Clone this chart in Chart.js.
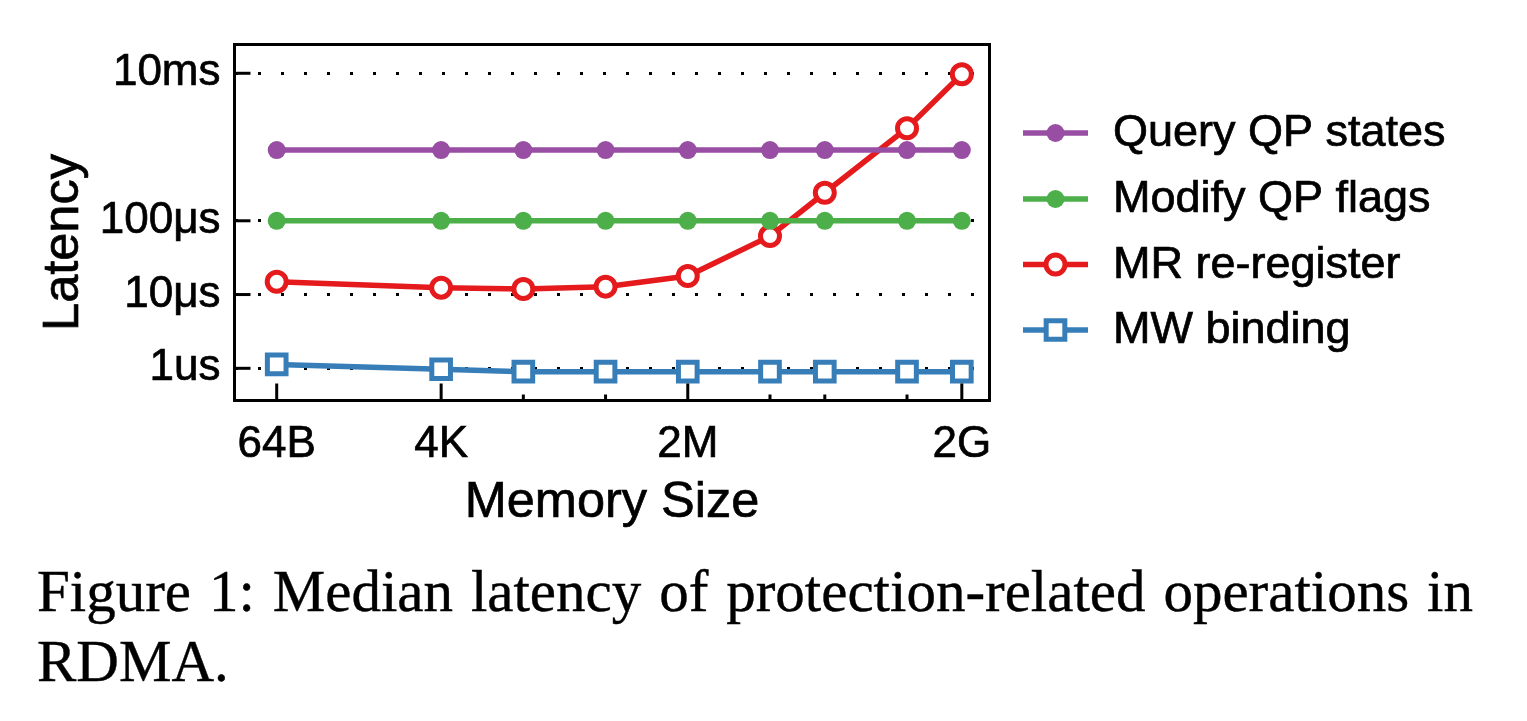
<!DOCTYPE html>
<html>
<head>
<meta charset="utf-8">
<script src="https://cdn.jsdelivr.net/npm/chart.js@4.4.0/dist/chart.umd.min.js"></script>
<style>
  html, body { margin: 0; padding: 0; background: #fff; }
  body { width: 1527px; height: 721px; position: relative; overflow: hidden; }
  #chart { position: absolute; left: 0; top: 0; }
  .cap { position: absolute; left: 37px; font-family: 'Liberation Serif', 'Times New Roman', serif;
         font-size: 59px; line-height: 70px; color: #000; white-space: nowrap;
         -webkit-text-stroke: 0.4px #000; }
  #cap1 { top: 556px; width: 1436px; text-align: justify; text-align-last: justify; white-space: normal; }
  #cap2 { top: 626px; }
</style>
</head>
<body>
<canvas id="chart" width="1527" height="540"></canvas>
<div class="cap" id="cap1">Figure 1: Median latency of protection-related operations in</div>
<div class="cap" id="cap2">RDMA.</div>
<script>
// ---- data ----
const sizeLabels = ['64B', '4K', '32K', '256K', '2M', '16M', '64M', '512M', '2G'];
const sizeLog2   = [6, 12, 15, 18, 21, 24, 26, 29, 31];
const xLabeled   = ['64B', '4K', '2M', '2G'];
const seriesNames = ['Query QP states', 'Modify QP flags', 'MR re-register', 'MW binding'];
// latency in microseconds
const queryQP  = [910, 910, 910, 910, 910, 910, 910, 910, 910];
const modifyQP = [100, 100, 100, 100, 100, 100, 100, 100, 100];
const mrReg    = [14.9, 12.4, 11.9, 12.8, 17.8, 62, 240, 1800, 9700];
const mwBind   = [1.13, 0.97, 0.90, 0.90, 0.90, 0.90, 0.90, 0.90, 0.90];
const yTickValues = [1, 10, 100, 10000];
const yTickLabels = ['1us', '10μs', '100μs', '10ms'];

const colors = ['#984ea3', '#4daf4a', '#e41a1c', '#377eb8'];
const FONT = "'Liberation Sans', Arial, Helvetica, sans-serif";
const TEXT_STROKE = 0.7;

function pts(arr) { return arr.map((v, i) => ({ x: sizeLog2[i], y: v })); }

const markerStyles = [
  { pointStyle: 'circle', pointRadius: 9, pointBorderWidth: 0, fill: true },
  { pointStyle: 'circle', pointRadius: 9, pointBorderWidth: 0, fill: true },
  { pointStyle: 'circle', pointRadius: 9.5, pointBorderWidth: 5, fill: false },
  { pointStyle: 'rect', pointRadius: 13.2, pointBorderWidth: 5, fill: false }
];
const allSeries = [queryQP, modifyQP, mrReg, mwBind];

const datasets = allSeries.map((arr, i) => ({
  label: seriesNames[i],
  data: pts(arr),
  borderColor: colors[i],
  borderWidth: 5.5,
  backgroundColor: colors[i],
  pointStyle: markerStyles[i].pointStyle,
  pointRadius: markerStyles[i].pointRadius,
  pointHoverRadius: markerStyles[i].pointRadius,
  pointBorderWidth: markerStyles[i].pointBorderWidth,
  pointBorderColor: colors[i],
  pointBackgroundColor: markerStyles[i].fill ? colors[i] : '#ffffff',
  tension: 0,
  fill: false
}));

function drawMarker(ctx, i, x, y) {
  const m = markerStyles[i];
  ctx.save();
  ctx.lineWidth = m.pointBorderWidth;
  ctx.strokeStyle = colors[i];
  ctx.fillStyle = m.fill ? colors[i] : '#ffffff';
  ctx.beginPath();
  if (m.pointStyle === 'rect') {
    const s = Math.SQRT1_2 * m.pointRadius;
    ctx.rect(x - s, y - s, 2 * s, 2 * s);
  } else {
    ctx.arc(x, y, m.pointRadius, 0, Math.PI * 2);
  }
  ctx.fill();
  if (m.pointBorderWidth > 0) ctx.stroke();
  ctx.restore();
}

function text(ctx, s, x, y) {
  ctx.fillText(s, x, y);
  ctx.lineWidth = TEXT_STROKE;
  ctx.strokeStyle = '#000';
  ctx.strokeText(s, x, y);
}

const decorPlugin = {
  id: 'decor',
  afterDraw(chart) {
    const ctx = chart.ctx;
    const a = chart.chartArea;
    const xs = chart.scales.x, ys = chart.scales.y;
    ctx.save();
    // frame
    ctx.strokeStyle = '#000';
    ctx.lineWidth = 3;
    ctx.strokeRect(a.left, a.top, a.right - a.left, a.bottom - a.top);
    // x ticks (inward)
    ctx.lineWidth = 3;
    sizeLog2.forEach((v, i) => {
      const px = xs.getPixelForValue(v);
      const major = xLabeled.includes(sizeLabels[i]);
      const len = major ? 17 : 6;
      ctx.beginPath();
      ctx.moveTo(px, a.bottom);
      ctx.lineTo(px, a.bottom - len);
      ctx.stroke();
    });
    // y ticks (inward)
    yTickValues.forEach(v => {
      const py = ys.getPixelForValue(v);
      ctx.beginPath();
      ctx.moveTo(a.left, py);
      ctx.lineTo(a.left + 16, py);
      ctx.stroke();
    });
    // axis titles
    ctx.fillStyle = '#000';
    ctx.font = '50.5px ' + FONT;
    ctx.textAlign = 'center';
    ctx.textBaseline = 'alphabetic';
    text(ctx, 'Memory Size', (a.left + a.right) / 2, 517);
    ctx.save();
    ctx.translate(78, (a.top + a.bottom) / 2 + 20);
    ctx.rotate(-Math.PI / 2);
    text(ctx, 'Latency', 0, 0);
    ctx.restore();
    // legend
    const lx0 = 1023, lx1 = 1088, tx = 1113;
    const rowY = [133, 199, 264.5, 330];
    ctx.font = '45px ' + FONT;
    ctx.textAlign = 'left';
    ctx.textBaseline = 'middle';
    seriesNames.forEach((name, i) => {
      const y = rowY[i];
      ctx.strokeStyle = colors[i];
      ctx.lineWidth = 5.5;
      ctx.beginPath();
      ctx.moveTo(lx0, y);
      ctx.lineTo(lx1, y);
      ctx.stroke();
      drawMarker(ctx, i, (lx0 + lx1) / 2, y);
      ctx.fillStyle = '#000';
      text(ctx, name, tx, y + 1);
    });
    ctx.restore();
  }
};

new Chart(document.getElementById('chart'), {
  type: 'line',
  data: { datasets },
  plugins: [decorPlugin],
  options: {
    responsive: false,
    animation: false,
    devicePixelRatio: 1,
    layout: { padding: { left: 0, top: 44.5, right: 537.5, bottom: 0 } },
    plugins: { legend: { display: false }, tooltip: { enabled: false } },
    scales: {
      x: {
        type: 'linear',
        min: 4.46,
        max: 32.01,
        afterFit(scale) { scale.height = 139.5; },
        afterBuildTicks(scale) { scale.ticks = sizeLog2.map(v => ({ value: v })); },
        grid: { display: false },
        border: { display: false },
        ticks: {
          autoSkip: false,
          maxRotation: 0,
          padding: 10,
          color: '#000',
          textStrokeColor: '#000',
          textStrokeWidth: TEXT_STROKE,
          font: { family: FONT, size: 44 },
          callback(v) {
            const i = sizeLog2.indexOf(v);
            return (i >= 0 && xLabeled.includes(sizeLabels[i])) ? sizeLabels[i] : '';
          }
        }
      },
      y: {
        type: 'logarithmic',
        min: 0.366,
        max: 24550,
        afterFit(scale) { scale.width = 234.5; },
        afterBuildTicks(scale) { scale.ticks = yTickValues.map(v => ({ value: v })); },
        grid: { color: '#000', lineWidth: 3, drawTicks: false },
        border: { display: false, dash: [3, 20] },
        ticks: {
          autoSkip: false,
          padding: 14,
          color: '#000',
          textStrokeColor: '#000',
          textStrokeWidth: TEXT_STROKE,
          font: { family: FONT, size: 44 },
          callback(v) {
            const i = yTickValues.indexOf(v);
            return i >= 0 ? yTickLabels[i] : '';
          }
        }
      }
    }
  }
});
</script>
</body>
</html>
